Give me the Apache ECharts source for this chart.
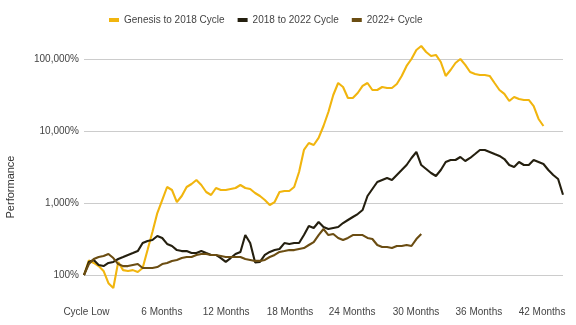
<!DOCTYPE html>
<html><head><meta charset="utf-8">
<script src="https://cdn.jsdelivr.net/npm/echarts@6/dist/echarts.min.js"></script>
<style>html,body{margin:0;padding:0;background:#fff}#c{width:576px;height:325px}</style>
</head><body><div id="c"></div>
<script>
const seriesNames = ['Genesis to 2018 Cycle', '2018 to 2022 Cycle', '2022+ Cycle'];
const stepDays = 14; // one sample every two weeks since the cycle low
const genesis = [100,160,147,133,114,77,66,152,117,114,
117,110,125,222,396,726,1100,1668,1516,1032,
1251,1668,1836,2086,1778,1422,1292,1615,1516,1516,
1565,1615,1778,1615,1565,1377,1251,1100,938,1032,
1422,1468,1468,1668,2696,5450,6810,6390,8000,11730,
18360,31620,46400,40800,28700,28700,33700,42200,46400,37100,
37100,40800,39500,39500,45000,58100,80000,100000,133400,151600,
125100,110100,113700,90800,58100,70300,88000,100000,82600,65900,
61900,59900,59900,58100,46400,37100,32700,26100,29700,27800,
27000,27000,22200,14680,11730];
const cycle2018 = [100,152,162,138,133,147,152,167,178,190,
202,215,278,297,306,348,327,270,253,222,
215,215,202,202,215,202,190,190,172,152,
172,196,209,359,278,150,152,190,209,222,
230,278,270,278,278,359,479,450,545,464,
436,450,464,527,581,639,703,800,1251,1565,
1957,2086,2224,2086,2448,2870,3370,4220,5110,3370,
2965,2610,2371,2870,3710,3955,3955,4355,3830,4220,
4790,5450,5450,5110,4790,4500,4080,3370,3160,3710,
3370,3370,3955,3710,3480,2870,2448,2154,1300];
const cycle2022 = [100,142,167,178,184,196,172,142,133,133,
138,142,125,125,125,129,142,147,157,162,
172,178,178,190,196,196,190,190,184,178,
178,178,178,167,162,157,157,162,178,190,
209,215,222,222,230,237,261,287,359,436,
359,371,327,306,327,359,359,359,327,316,
261,245,245,237,253,253,261,253,316,371];
const xLabels = ['Cycle Low', '6 Months', '12 Months', '18 Months', '24 Months', '30 Months', '36 Months', '42 Months'];
const xLabelDays = [7, 223, 407, 590, 768, 951, 1131, 1312];
const yTicks = [100, 1000, 10000, 100000];
const colors = ['#F1B50E', '#241F0F', '#6B4D12'];

function pairs(arr) { return arr.map((v, i) => [i * stepDays, v]); }
const allData = [genesis, cycle2018, cycle2022];
const font = "'Liberation Sans', Arial, sans-serif";

const chart = echarts.init(document.getElementById('c'), null, {renderer: 'canvas'});
chart.setOption({
  animation: false,
  backgroundColor: '#fff',
  legend: {
    top: 10, left: 104, itemWidth: 10, itemHeight: 4, itemGap: 13, icon: 'rect',
    textStyle: {fontSize: 10, color: '#444', fontFamily: font},
    data: seriesNames
  },
  graphic: [{
    type: 'text', x: 11, y: 187, rotation: Math.PI / 2,
    style: {text: 'Performance', align: 'center', verticalAlign: 'middle', font: '11px ' + font, fill: '#333'}
  }],
  grid: {left: 84, right: 13, top: 37.3, bottom: 28.3, outerBoundsMode: 'none'},
  xAxis: {
    type: 'value', min: 0, max: 1372,
    axisLine: {show: false}, axisTick: {show: false}, splitLine: {show: false},
    axisLabel: {
      customValues: xLabelDays, margin: 11, fontSize: 10, color: '#444', fontFamily: font,
      formatter: v => { const k = xLabelDays.indexOf(v); return k >= 0 ? xLabels[k] : ''; }
    }
  },
  yAxis: {
    type: 'log', logBase: 10, min: 50, max: 200000,
    axisLine: {show: false}, axisTick: {show: false},
    splitLine: {show: true, showMinLine: false, showMaxLine: false, lineStyle: {color: '#cccccc', width: 1}},
    axisLabel: {
      showMinLabel: false, showMaxLabel: false, margin: 5, fontSize: 10, color: '#444', fontFamily: font,
      formatter: v => { const r = Math.round(v); return yTicks.includes(r) ? r.toLocaleString('en-US') + '%' : ''; }
    }
  },
  series: seriesNames.map((n, k) => ({
    name: n, type: 'line', data: pairs(allData[k]), showSymbol: false, symbol: 'none',
    color: colors[k], lineStyle: {width: 2.1, color: colors[k]}
  }))
});
</script>
</body></html>
